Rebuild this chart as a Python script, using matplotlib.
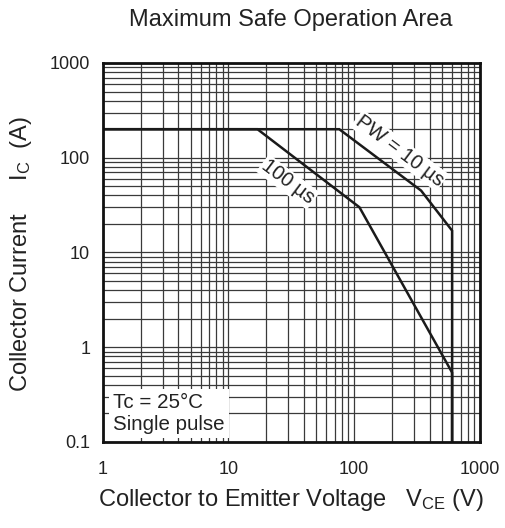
import matplotlib
matplotlib.use("Agg")
import matplotlib.pyplot as plt

plt.rcParams["font.family"] = ["Liberation Sans", "DejaVu Sans"]
plt.rcParams["mathtext.fontset"] = "custom"
plt.rcParams["mathtext.rm"] = "Liberation Sans"
plt.rcParams["mathtext.it"] = "Liberation Sans"

# safe operating area boundaries (VCE in V, IC in A)
vce_100us = [1, 17, 110, 600, 600]
ic_100us = [200, 200, 30, 0.54, 0.1]
vce_10us = [1, 76, 340, 600, 600]
ic_10us = [200, 200, 45, 17, 0.1]

x_ticks = [1, 10, 100, 1000]
x_labels = ["1", "10", "100", "1000"]
y_ticks = [0.1, 1, 10, 100, 1000]
y_labels = ["0.1", "1", "10", "100", "1000"]

txt = "#222222"
fig = plt.figure(figsize=(5.06, 5.28), dpi=100)
ax = fig.add_axes([0.203, 0.163, 0.7456, 0.7177])

ax.set_xscale("log")
ax.set_yscale("log")
ax.set_xlim(1, 1000)
ax.set_ylim(0.1, 1000)

ax.grid(True, which="both", color="#3a3a3a", lw=0.9)
ax.set_axisbelow(True)

ax.plot(vce_100us, ic_100us, color="#1a1a1a", lw=1.8, solid_joinstyle="miter")
ax.plot(vce_10us, ic_10us, color="#1a1a1a", lw=1.8, solid_joinstyle="miter")

ax.set_xticks(x_ticks)
ax.set_xticklabels(x_labels)
ax.set_yticks(y_ticks)
ax.set_yticklabels(y_labels)
ax.tick_params(which="both", length=0, labelsize=13, labelcolor=txt)
ax.tick_params(axis="x", pad=14)
ax.tick_params(axis="y", pad=9)

for s in ax.spines.values():
    s.set_linewidth(2)
    s.set_color("#111111")

ax.text(229, 119, "PW = 10 µs", rotation=-37, ha="center", va="center",
        fontsize=14.5, color=txt, rotation_mode="anchor",
        bbox=dict(facecolor="white", edgecolor="none", pad=1))
ax.text(29.7, 55.5, "100 µs", rotation=-37, ha="center", va="center",
        fontsize=14.5, color=txt, rotation_mode="anchor",
        bbox=dict(facecolor="white", edgecolor="none", pad=1))

ax.text(0.027, 0.022, "Tc = 25°C\nSingle pulse", transform=ax.transAxes,
        ha="left", va="bottom", fontsize=14.8, color=txt, linespacing=1.17,
        bbox=dict(facecolor="white", edgecolor="none", pad=3))

fig.text(0.575, 0.962, "Maximum Safe Operation Area", ha="center", va="center",
         fontsize=17, color=txt)
fig.text(0.575, 0.053, r"Collector to Emitter Voltage   V$_\mathrm{CE}$ (V)",
         ha="center", va="center", fontsize=17, color=txt)
fig.text(0.041, 0.519, r"Collector Current     I$_\mathrm{C}$  (A)", rotation=90,
         ha="center", va="center", fontsize=17, color=txt)

fig.savefig("out.png", dpi=100, facecolor="white")
